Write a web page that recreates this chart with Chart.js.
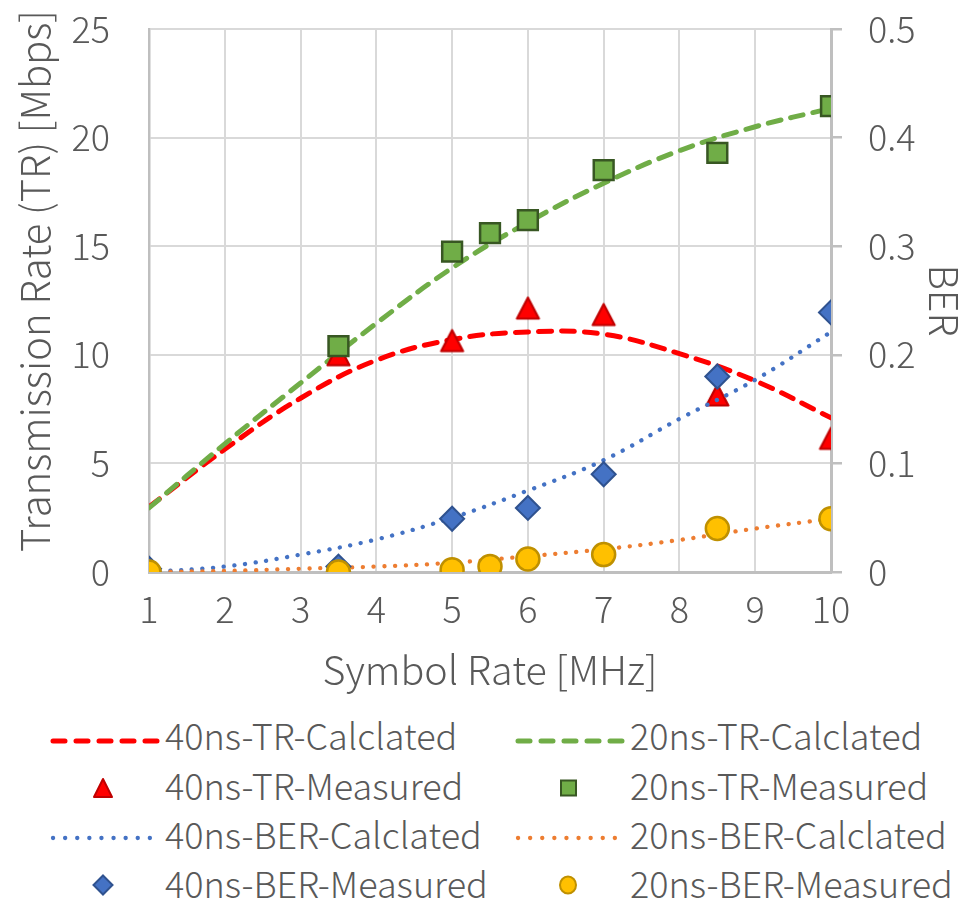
<!DOCTYPE html>
<html>
<head>
<meta charset="utf-8">
<script src="https://cdn.jsdelivr.net/npm/chart.js@4.4.1/dist/chart.umd.min.js"></script>
<style>
  html, body { margin: 0; padding: 0; background: #ffffff; }
  #wrap { position: relative; width: 962px; height: 904px; overflow: hidden; }
  #chartBox { position: absolute; left: 0; top: 0; width: 962px; height: 700px; }
  .lg { position: absolute; font-family: "Noto Sans CJK JP", "Noto Sans", sans-serif; font-weight: 300; font-size: 36px; color: #595959; line-height: 1; white-space: nowrap; }
  .sym { position: absolute; }
</style>
</head>
<body>
<div id="wrap">
  <div id="chartBox"><canvas id="c" width="962" height="700"></canvas></div>
  <div id="legend"></div>
</div>
<script>
// ---- data ----
const xCalc = [1, 2, 3, 4, 5, 6, 7, 8, 9, 10];
const tr40Calc = [3.0, 5.65, 8.0, 9.75, 10.7, 11.05, 10.95, 10.05, 8.8, 7.1];
const tr20Calc = [2.95, 5.9, 8.7, 11.45, 14.0, 16.1, 17.9, 19.4, 20.5, 21.35];
const ber40Calc = [0.0, 0.005, 0.016, 0.030, 0.050, 0.075, 0.103, 0.141, 0.177, 0.221];
const ber20Calc = [0.0, 0.001, 0.003, 0.005, 0.0085, 0.0145, 0.021, 0.0295, 0.040, 0.049];

const xTr40Meas = [3.5, 5, 6, 7, 8.5, 10];
const tr40Meas = [10.0, 10.65, 12.15, 11.85, 8.15, 6.15];
const xTr20Meas = [3.5, 5, 5.5, 6, 7, 8.5, 10];
const tr20Meas = [10.4, 14.75, 15.6, 16.2, 18.5, 19.3, 21.45];
const xBer40Meas = [1, 3.5, 5, 6, 7, 8.5, 10];
const ber40Meas = [0.003, 0.005, 0.049, 0.059, 0.09, 0.18, 0.239];
const xBer20Meas = [1, 3.5, 5, 5.5, 6, 7, 8.5, 10];
const ber20Meas = [0, 0, 0.002, 0.005, 0.012, 0.016, 0.04, 0.049];

const seriesNames = [
  "40ns-TR-Calclated", "20ns-TR-Calclated",
  "40ns-TR-Measured", "20ns-TR-Measured",
  "40ns-BER-Calclated", "20ns-BER-Calclated",
  "40ns-BER-Measured", "20ns-BER-Measured"
];
const xTitle = "Symbol Rate [MHz]";
const yTitle = "Transmission Rate (TR) [Mbps]";
const y2Title = "BER";

const FONT = '"Noto Sans CJK JP", "Noto Sans", sans-serif';
const TXT = '#595959';

function pts(xs, ys) { return xs.map((x, i) => ({ x: x, y: ys[i] })); }

// triangle marker centred on its bounding box (as in the reference)
function triangleMarker(w, h, fill, stroke, lw) {
  const c = document.createElement('canvas');
  const pad = lw;
  c.width = Math.ceil(w + pad * 2); c.height = Math.ceil(h + pad * 2);
  const g = c.getContext('2d');
  const cx = c.width / 2, cy = c.height / 2;
  g.beginPath();
  g.moveTo(cx, cy - h / 2);
  g.lineTo(cx + w / 2, cy + h / 2);
  g.lineTo(cx - w / 2, cy + h / 2);
  g.closePath();
  g.fillStyle = fill; g.fill();
  g.lineJoin = 'round'; g.lineWidth = lw; g.strokeStyle = stroke; g.stroke();
  return c;
}
const triImg = triangleMarker(22, 21, '#FF0000', '#C00000', 2.2);

const datasets = [
  { label: seriesNames[0], data: pts(xCalc, tr40Calc), yAxisID: 'y', borderColor: '#FF0000', borderWidth: 5, borderDash: [13, 10], borderCapStyle: 'round', pointRadius: 0, tension: 0.4, order: 8 },
  { label: seriesNames[1], data: pts(xCalc, tr20Calc), yAxisID: 'y', borderColor: '#70AD47', borderWidth: 5, borderDash: [13, 10], borderCapStyle: 'round', pointRadius: 0, tension: 0.4, order: 7 },
  { label: seriesNames[2], data: pts(xTr40Meas, tr40Meas), yAxisID: 'y', showLine: false, pointStyle: triImg, pointRadius: 13, order: 6 },
  { label: seriesNames[3], data: pts(xTr20Meas, tr20Meas), yAxisID: 'y', showLine: false, pointStyle: 'rect', pointRadius: 14, backgroundColor: '#70AD47', borderColor: '#385723', borderWidth: 2.5, order: 5 },
  { label: seriesNames[4], data: pts(xCalc, ber40Calc), yAxisID: 'y2', borderColor: '#4472C4', borderWidth: 4.3, borderDash: [0.1, 10.6], borderCapStyle: 'round', pointRadius: 0, tension: 0.4, order: 4 },
  { label: seriesNames[5], data: pts(xCalc, ber20Calc), yAxisID: 'y2', borderColor: '#ED7D31', borderWidth: 4.3, borderDash: [0.1, 10.6], borderCapStyle: 'round', pointRadius: 0, tension: 0.4, order: 3 },
  { label: seriesNames[6], data: pts(xBer40Meas, ber40Meas), yAxisID: 'y2', showLine: false, pointStyle: 'rectRot', pointRadius: 12, backgroundColor: '#4472C4', borderColor: '#2F528F', borderWidth: 2, order: 2 },
  { label: seriesNames[7], data: pts(xBer20Meas, ber20Meas), yAxisID: 'y2', showLine: false, pointStyle: 'circle', pointRadius: 11.5, backgroundColor: '#FFC000', borderColor: '#BF9000', borderWidth: 2.5, order: 1 }
];

const leftTitlePlugin = {
  id: 'leftTitle',
  afterDraw(chart) {
    const ctx = chart.ctx;
    ctx.save();
    ctx.translate(35, 281);
    ctx.rotate(-Math.PI / 2);
    ctx.font = '300 40px ' + FONT;
    ctx.fillStyle = TXT;
    ctx.textAlign = 'center';
    ctx.textBaseline = 'middle';
    ctx.fillText(yTitle, 0, 0);
    ctx.restore();
  }
};

const tickFont = { family: FONT, size: 36, weight: 300 };
const titleFont = { family: FONT, size: 39.5, weight: 300 };

function fixV(w) {
  return s => { s.width = w; s.paddingTop = 0; s.paddingBottom = 0; };
}

new Chart(document.getElementById('c'), {
  type: 'line',
  data: { datasets: datasets },
  options: {
    responsive: false,
    animation: false,
    events: [],
    layout: { padding: { top: 29, left: 0, right: 0, bottom: 0 }, autoPadding: false },
    plugins: { legend: { display: false }, tooltip: { enabled: false } },
    scales: {
      x: {
        type: 'linear', min: 1, max: 10,
        afterFit: s => { s.height = 128; s.paddingLeft = 0; s.paddingRight = 0; },
        ticks: { stepSize: 1, color: TXT, font: tickFont, padding: 16, maxRotation: 0 },
        grid: { color: '#D9D9D9', lineWidth: 2, drawTicks: false },
        border: { color: '#BFBFBF', width: 3 },
        title: { display: true, text: xTitle, color: TXT, font: titleFont, padding: { top: 0, bottom: 6 } }
      },
      y: {
        position: 'left', min: 0, max: 25,
        afterFit: fixV(149),
        ticks: { stepSize: 5, color: TXT, font: tickFont, padding: 39 },
        grid: { color: '#D9D9D9', lineWidth: 2, drawTicks: false },
        border: { color: '#BFBFBF', width: 2.5 }
      },
      y2: {
        position: 'right', min: 0, max: 0.5,
        afterFit: fixV(131),
        ticks: { stepSize: 0.1, color: TXT, font: tickFont, padding: 26 },
        grid: { drawOnChartArea: false, drawTicks: true, tickLength: 11, color: '#BFBFBF', lineWidth: 2.5 },
        border: { color: '#BFBFBF', width: 3 },
        title: { display: true, text: y2Title, color: TXT, font: { family: FONT, size: 39.5, weight: 300, lineHeight: 1 }, padding: { top: -2, bottom: 0 } }
      }
    }
  },
  plugins: [leftTitlePlugin]
});

// ---- HTML legend (two columns, four rows) ----
const legendTextY = [737, 787, 836, 885];
const legendSymY = [741, 788, 838, 885];
const colSymX = [48, 513];
const colTextX = [165, 630];
const legendSyms = [
  { kind: 'line', color: '#FF0000', dash: '12 11', w: 5, cap: 'round' },
  { kind: 'line', color: '#70AD47', dash: '12 11', w: 5, cap: 'round' },
  { kind: 'tri', fill: '#FF0000', stroke: '#C00000' },
  { kind: 'rect', fill: '#70AD47', stroke: '#385723' },
  { kind: 'line', color: '#4472C4', dash: '0.1 12', w: 4.3, cap: 'round' },
  { kind: 'line', color: '#ED7D31', dash: '0.1 12', w: 4.3, cap: 'round' },
  { kind: 'dia', fill: '#4472C4', stroke: '#2F528F' },
  { kind: 'circ', fill: '#FFC000', stroke: '#BF9000' }
];
const lg = document.getElementById('legend');
seriesNames.forEach((name, i) => {
  const col = i % 2, row = Math.floor(i / 2);
  const s = legendSyms[i];
  const svgNS = 'http://www.w3.org/2000/svg';
  const svg = document.createElementNS(svgNS, 'svg');
  svg.setAttribute('width', 112); svg.setAttribute('height', 30);
  svg.setAttribute('class', 'sym');
  svg.style.left = colSymX[col] + 'px'; svg.style.top = (legendSymY[row] - 15) + 'px';
  let el;
  if (s.kind === 'line') {
    el = document.createElementNS(svgNS, 'line');
    el.setAttribute('x1', 5); el.setAttribute('x2', 110); el.setAttribute('y1', 15); el.setAttribute('y2', 15);
    el.setAttribute('stroke', s.color); el.setAttribute('stroke-width', s.w);
    el.setAttribute('stroke-dasharray', s.dash); el.setAttribute('stroke-linecap', s.cap);
  } else if (s.kind === 'tri') {
    el = document.createElementNS(svgNS, 'polygon');
    el.setAttribute('points', '55,6 64,24 46,24');
    el.setAttribute('stroke-linejoin', 'round');
  } else if (s.kind === 'rect') {
    el = document.createElementNS(svgNS, 'rect');
    el.setAttribute('x', 48); el.setAttribute('y', 7.5); el.setAttribute('width', 15); el.setAttribute('height', 15);
  } else if (s.kind === 'dia') {
    el = document.createElementNS(svgNS, 'polygon');
    el.setAttribute('points', '55,5.5 64.5,15 55,24.5 45.5,15');
  } else {
    el = document.createElementNS(svgNS, 'ellipse');
    el.setAttribute('cx', 55); el.setAttribute('cy', 15); el.setAttribute('rx', 8); el.setAttribute('ry', 8.5);
  }
  if (s.kind !== 'line') {
    el.setAttribute('fill', s.fill); el.setAttribute('stroke', s.stroke); el.setAttribute('stroke-width', 2);
  }
  svg.appendChild(el);
  lg.appendChild(svg);
  const t = document.createElement('div');
  t.className = 'lg';
  t.textContent = name;
  t.style.left = colTextX[col] + 'px';
  t.style.top = (legendTextY[row] - 21) + 'px';
  lg.appendChild(t);
});
</script>
</body>
</html>
